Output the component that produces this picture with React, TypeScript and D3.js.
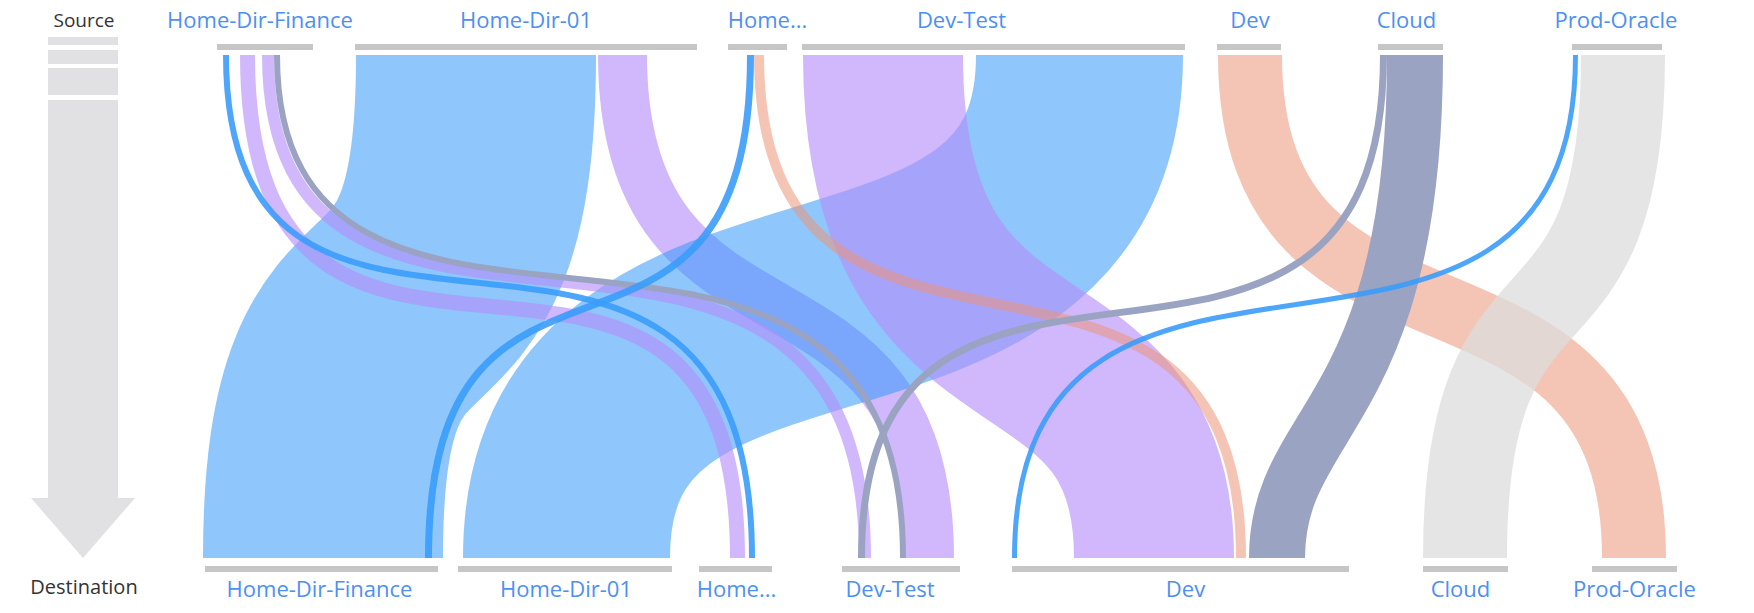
import React from "react";
import * as d3 from "d3";

// ---------- data ----------
const sourceNodes = ["Home-Dir-Finance", "Home-Dir-01", "Home...", "Dev-Test", "Dev", "Cloud", "Prod-Oracle"];
const targetNodes = ["Home-Dir-Finance", "Home-Dir-01", "Home...", "Dev-Test", "Dev", "Cloud", "Prod-Oracle"];
// node capacity (TB)
const sourceSize = [9.6, 34.2, 5.9, 38.3, 6.4, 6.5, 9.0];
const targetSize = [23.3, 21.4, 7.3, 11.8, 33.7, 8.5, 8.5];
// flows (TB), in drawing order
const linkSource = [1, 4, 6, 1, 3, 3, 0, 0, 2, 5, 0, 5, 0, 2, 6];
const linkTarget = [0, 6, 5, 3, 1, 4, 2, 3, 4, 4, 3, 3, 2, 0, 4];
const linkValue = [24.0, 6.4, 8.4, 4.9, 20.7, 16.0, 1.5, 1.2, 1.0, 5.6, 0.6, 0.7, 0.6, 0.7, 0.5];
const linkKind = ["blue", "salmon", "gray", "purple", "blue", "purple", "purple", "purple", "salmon", "slate", "slate", "slate", "line", "line", "line"];

// ---------- layout / style ----------
const W = 1754;
const H = 613;
const topNodeX = [217, 355, 728, 802, 1217, 1378, 1572];
const bottomNodeX = [205, 458, 699, 842, 1012, 1423, 1592];
const srcOffset = [1, 1, 9, 243, 174, 1, 23, 45, 26, 9, 57, 2, 6, 19, 1];
const tgtOffset = [-2, 10, 0, 63, 5, 62, 31, 17, 224, 237, 58, 16, 50, 220, 0];
const bend: [number, number][] = [
  [0.72, 0.3], [0.68, 0.32], [0.65, 0.35], [0.65, 0.35], [0.69, 0.31],
  [0.73, 0.47], [0.91, 0.09], [0.81, 0.06], [0.8, 0.19], [0.72, 0.72],
  [0.8, 0.06], [0.88, 0.15], [0.83, 0.05], [0.76, 0.24], [0.83, 0.16],
];
const topLabelDx = [-5, 0, 10, -32, 1, -4, -1];
const bottomLabelDx = [-2, 1, 1, -11, 5, -5, 0];
const palette: Record<string, { color: string; opacity: number }> = {
  blue: { color: "#3399fa", opacity: 0.55 },
  purple: { color: "#b58cfa", opacity: 0.62 },
  salmon: { color: "#eb9578", opacity: 0.55 },
  slate: { color: "#9aa3c2", opacity: 1 },
  gray: { color: "#dcdcdc", opacity: 0.75 },
  line: { color: "#3a9cf9", opacity: 0.9 },
};
const labelColor = "#4d90f2";
const barColor = "#c6c6c6";
const FONT = "'Open Sans', 'Noto Sans', sans-serif";

const topBarY = 44;
const bottomBarY = 566;
const barH = 6;
const linkY0 = 55;
const linkY1 = 558;

export default function App() {
  const widthScale = d3.scaleLinear().domain([0, 1]).range([0, 10]);

  const links = linkValue.map((v, i) => {
    const w = widthScale(v);
    const x0 = topNodeX[linkSource[i]] + srcOffset[i] + w / 2;
    const x1 = bottomNodeX[linkTarget[i]] + tgtOffset[i] + w / 2;
    const dy = linkY1 - linkY0;
    const [p1, p2] = bend[i];
    const p = d3.path();
    p.moveTo(x0, linkY0);
    p.bezierCurveTo(x0, linkY0 + p1 * dy, x1, linkY0 + p2 * dy, x1, linkY1);
    const style = palette[linkKind[i]];
    return { d: p.toString(), w, ...style };
  });

  return (
    <svg width={W} height={H} style={{ display: "block", position: "absolute", left: 0, top: 0 }}>
      <rect width={W} height={H} fill="#fff" />
      {/* legend arrow */}
      <g fill="#e1e1e3">
        <rect x={48} y={37} width={70} height={8} />
        <rect x={48} y={50} width={70} height={14} />
        <rect x={48} y={68} width={70} height={27} />
        <rect x={48} y={100} width={70} height={398} />
        <path d="M31,498 L135,498 L83,558 Z" />
      </g>
      <text x={84} y={27} textAnchor="middle" fontFamily={FONT} fontSize={19} fill="#333">Source</text>
      <text x={84} y={594} textAnchor="middle" fontFamily={FONT} fontSize={20} fill="#333">Destination</text>

      {/* links */}
      <g fill="none">
        {links.map((l, i) => (
          <path key={i} d={l.d} stroke={l.color} strokeOpacity={l.opacity} strokeWidth={l.w} strokeLinecap="butt" />
        ))}
      </g>

      {/* source bars & labels */}
      {sourceNodes.map((n, i) => {
        const w = widthScale(sourceSize[i]);
        const x = topNodeX[i];
        return (
          <g key={"s" + i}>
            <rect x={x} y={topBarY} width={w} height={barH} fill={barColor} />
            <text x={x + w / 2 + topLabelDx[i]} y={28} textAnchor="middle" fontFamily={FONT} fontSize={22} fill={labelColor}>{n}</text>
          </g>
        );
      })}
      {targetNodes.map((n, i) => {
        const w = widthScale(targetSize[i]);
        const x = bottomNodeX[i];
        return (
          <g key={"t" + i}>
            <rect x={x} y={bottomBarY} width={w} height={barH} fill={barColor} />
            <text x={x + w / 2 + bottomLabelDx[i]} y={597} textAnchor="middle" fontFamily={FONT} fontSize={22} fill={labelColor}>{n}</text>
          </g>
        );
      })}
    </svg>
  );
}
